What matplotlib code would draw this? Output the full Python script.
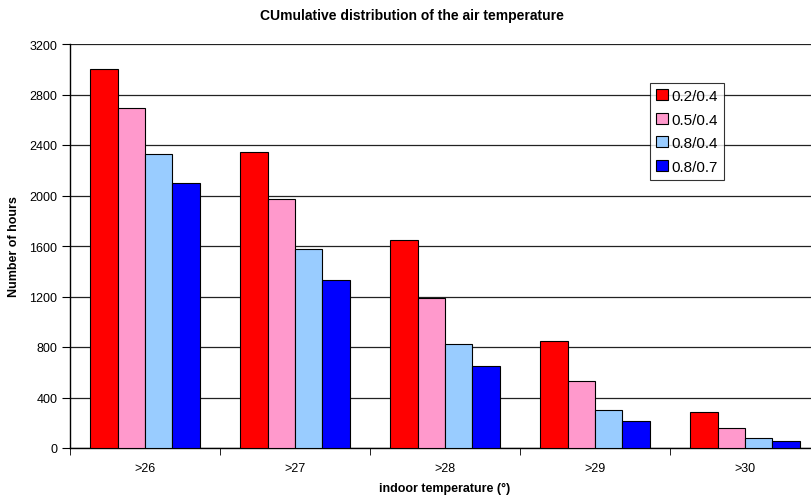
import matplotlib
matplotlib.use("Agg")
import matplotlib.pyplot as plt
import numpy as np

plt.rcParams['font.family'] = ['Liberation Sans', 'DejaVu Sans']

categories = [">26", ">27", ">28", ">29", ">30"]
series_names = ["0.2/0.4", "0.5/0.4", "0.8/0.4", "0.8/0.7"]
values = {
    "0.2/0.4": [3000, 2345, 1650, 845, 285],
    "0.5/0.4": [2690, 1970, 1190, 528, 160],
    "0.8/0.4": [2330, 1580, 825, 298, 79],
    "0.8/0.7": [2100, 1330, 650, 211, 52],
}
colors = ["#FF0000", "#FF99CC", "#99CCFF", "#0000FF"]
yticks = [0, 400, 800, 1200, 1600, 2000, 2400, 2800, 3200]

W, H = 811, 502
fig = plt.figure(figsize=(W / 100, H / 100), dpi=100)
ax = fig.add_axes([70 / W, 53 / H, 750 / W, 404 / H])

x = np.arange(len(categories))
bw = 0.182
for i, name in enumerate(series_names):
    ax.bar(x + (i - 1.5) * bw, values[name], width=bw, color=colors[i],
           edgecolor="black", linewidth=0.8, label=name, zorder=3)

ax.set_xlim(-0.5, len(categories) - 0.5)
ax.set_ylim(0, 3200)
ax.set_yticks(yticks)
ax.set_yticklabels([str(v) for v in yticks], fontsize=9)
ax.yaxis.grid(True, color="#222222", linewidth=0.9, zorder=0)
ax.set_axisbelow(True)

ax.set_xticks(x)
ax.set_xticklabels(categories, fontsize=9)
ax.tick_params(axis="x", length=0, pad=10)
ax.set_xticks(np.arange(len(categories) + 1) - 0.5, minor=True)
ax.tick_params(axis="x", which="minor", length=5, direction="out", color="black")
ax.tick_params(axis="y", length=6, direction="out", color="black", pad=3)

for s in ["top", "right"]:
    ax.spines[s].set_visible(False)
for s in ["left", "bottom"]:
    ax.spines[s].set_color("black")
    ax.spines[s].set_linewidth(1.0)

ax.set_xlabel("indoor temperature (°)", fontsize=9, fontweight="bold", labelpad=6)
fig.text(14 / W, 1 - 247 / H, "Number of hours", rotation=90, fontsize=9,
         fontweight="bold", ha="center", va="center")
fig.text(412 / W, 1 - 16 / H, "CUmulative distribution of the air temperature",
         fontsize=10, fontweight="bold", ha="center", va="center")

leg = ax.legend(loc="upper left", bbox_to_anchor=(650 / W, 1 - 84 / H),
                bbox_transform=fig.transFigure, fontsize=11, frameon=True,
                fancybox=False, edgecolor="black", handlelength=0.75,
                handleheight=0.75, handletextpad=0.25, borderpad=0.4,
                labelspacing=0.62, borderaxespad=0)
leg.get_frame().set_linewidth(0.8)

fig.savefig("out.png", dpi=100)
